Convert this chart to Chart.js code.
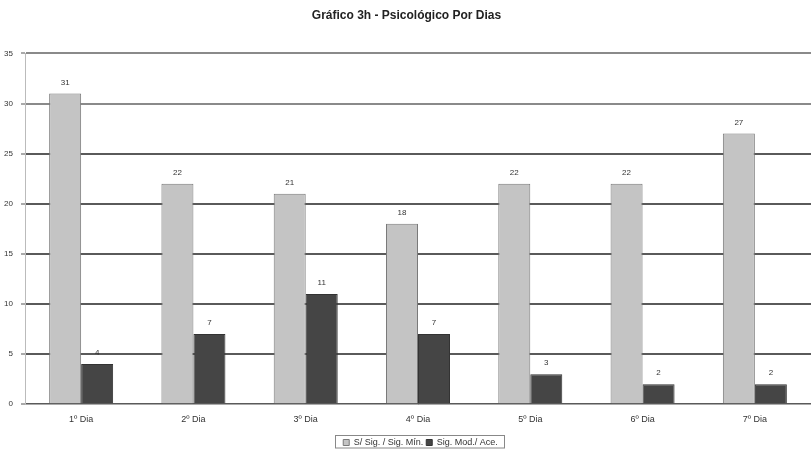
<!DOCTYPE html>
<html>
<head>
<meta charset="utf-8">
<script src="https://cdn.jsdelivr.net/npm/chart.js@4"></script>
<style>
html,body{margin:0;padding:0;background:#fff;}
#wrap{width:811px;height:449px;}
</style>
</head>
<body>
<div id="wrap"><canvas id="c" width="811" height="449"></canvas></div>
<script>
const categories = ["1º Dia","2º Dia","3º Dia","4º Dia","5º Dia","6º Dia","7º Dia"];
const seriesNames = ["S/ Sig. / Sig. Mín.","Sig. Mod./ Ace."];
const seriesLight = [31,22,21,18,22,22,27];
const seriesDark = [4,7,11,7,3,2,2];
const yTicks = [0,5,10,15,20,25,30,35];
const titleText = "Gráfico 3h - Psicológico Por Dias";

const FONT = '"Liberation Sans", Arial, sans-serif';
const valueLabels = {
  id:'valueLabels',
  afterDatasetsDraw(chart){
    const ctx = chart.ctx;
    ctx.save();
    ctx.font = '8px ' + FONT;
    ctx.fillStyle = '#333';
    ctx.textAlign = 'center';
    ctx.textBaseline = 'bottom';
    chart.data.datasets.forEach((ds,i)=>{
      chart.getDatasetMeta(i).data.forEach((bar,j)=>{
        ctx.fillText(String(ds.data[j]), bar.x, bar.y - 7);
      });
    });
    ctx.restore();
  }
};
const LEG_DX = 14, LEG_DY = 8;
const legendShift = {
  id:'legendShift',
  afterLayout(chart){
    const l = chart.legend;
    if(l){ l.top += LEG_DY; l.bottom += LEG_DY; l.left += LEG_DX; l.right += LEG_DX; }
  },
  afterDraw(chart){
    const l = chart.legend;
    if(!l) return;
    const ctx = chart.ctx;
    ctx.save();
    ctx.strokeStyle = '#888';
    ctx.lineWidth = 1;
    const hb = l.legendHitBoxes;
    const x0 = Math.min(...hb.map(h=>h.left)), x1 = Math.max(...hb.map(h=>h.left+h.width));
    const w = Math.round(x1 - x0) + 14;
    const x = Math.round((chart.width - w)/2) + LEG_DX + 0.5;
    ctx.strokeRect(x, 435.5, w, 12.5);
    ctx.restore();
  }
};

new Chart(document.getElementById('c'), {
  type:'bar',
  data:{
    labels: categories,
    datasets:[
      {label: seriesNames[0], data: seriesLight, backgroundColor:'#c4c4c4', borderColor:'#7a7a7a', borderWidth:1, categoryPercentage:0.57, barPercentage:1},
      {label: seriesNames[1], data: seriesDark, backgroundColor:'#454545', borderColor:'#333', borderWidth:1, categoryPercentage:0.57, barPercentage:1}
    ]
  },
  options:{
    responsive:false,
    animation:false,
    layout:{padding:{left:2,right:0,top:0,bottom:0}},
    plugins:{
      title:{display:true,text:titleText,color:'#222',font:{family:FONT,size:12,weight:'bold'},padding:{top:8,bottom:31}},
      legend:{position:'bottom',labels:{boxWidth:6,boxHeight:6,color:'#333',padding:3,font:{family:FONT,size:9}}},
      tooltip:{enabled:false}
    },
    scales:{
      x:{
        grid:{display:false},
        border:{display:true,color:'#aaa'},
        ticks:{color:'#333',font:{family:FONT,size:9},padding:2}
      },
      y:{
        min:0,max:35,
        afterBuildTicks(s){ s.ticks = yTicks.map(v=>({value:v})); },
        afterFit(s){ s.width = 23; },
        grid:{color:(c)=> c.tick && c.tick.value >= 30 ? '#8a8a8a' : '#5a5a5a',lineWidth:2,drawTicks:true,tickLength:4,tickColor:'#aaa'},
        border:{display:true,color:'#bbb',width:1},
        ticks:{color:'#333',font:{family:FONT,size:8},padding:8}
      }
    }
  },
  plugins:[valueLabels, legendShift]
});
</script>
</body>
</html>
